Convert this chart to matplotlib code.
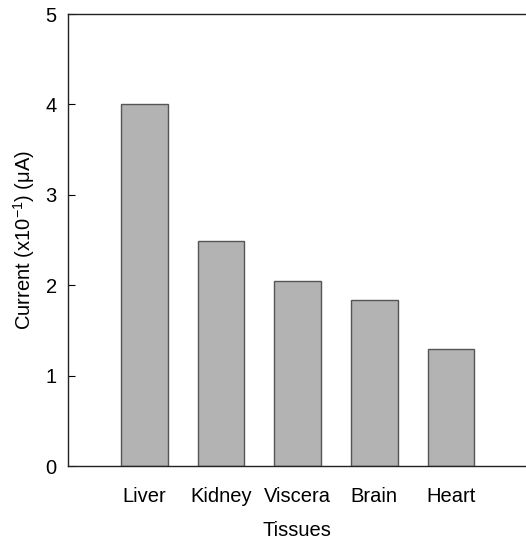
import matplotlib
matplotlib.use("Agg")
from matplotlib import pyplot as plt
import numpy as np

# current measured per tissue, in units of 1e-1 uA
tissues = ["Liver", "Kidney", "Viscera", "Brain", "Heart"]
current = [4.00, 2.49, 2.05, 1.84, 1.29]
yticks = [0, 1, 2, 3, 4, 5]

plt.rcParams['font.family'] = ['Liberation Sans', 'DejaVu Sans']
plt.rcParams['mathtext.fontset'] = 'custom'
plt.rcParams['mathtext.rm'] = 'Liberation Sans'
plt.rcParams['mathtext.it'] = 'Liberation Sans:italic'

fig = plt.figure(figsize=(5.26, 5.39), dpi=100)
ax = fig.add_axes([0.129, 0.1354, 0.871, 0.8386])

x = np.arange(len(tissues))
ax.bar(x, current, width=0.61, color='#b3b3b3', edgecolor='#555555', linewidth=1.0)

ax.set_xlim(-1, 4.98)
ax.set_ylim(0, 5)
ax.set_yticks(yticks)
ax.set_xticks(x)
ax.set_xticklabels(tissues)

ax.spines['right'].set_visible(False)
for s in ['left', 'top', 'bottom']:
    ax.spines[s].set_color('#222222')
    ax.spines[s].set_linewidth(1.0)

ax.tick_params(axis='y', direction='in', length=5, width=0.8, labelsize=14.5, pad=8)
ax.tick_params(axis='x', length=0, labelsize=14.5, pad=15)

ax.set_xlabel("Tissues", fontsize=14.5, labelpad=11)
ax.set_ylabel(r"Current (x10$^{-1}$) (μA)", fontsize=14.5, labelpad=6)

fig.savefig("out.png", dpi=100)
